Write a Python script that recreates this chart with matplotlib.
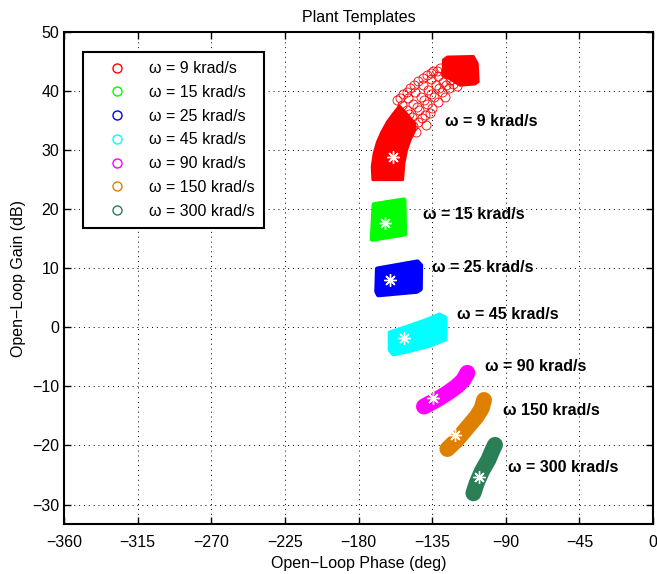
import matplotlib
matplotlib.use('Agg')
import matplotlib.pyplot as plt
from matplotlib.lines import Line2D

plt.rcParams['font.family'] = ['Liberation Sans', 'DejaVu Sans']
plt.rcParams['font.size'] = 11.5

freqs = [9, 15, 25, 45, 90, 150, 300]
colors = ['#ff0000', '#00ff00', '#0000ff', '#00ffff', '#ff00ff', '#df8000', '#2b7f57']

# 9 krad/s: dense lower arc, loose circles in the middle, dense blob on top
t9_low_phase = [-171.3, -171.7, -170.5, -168.5, -165.8, -162.4, -158.7, -155.0,
                -150.6, -145.5, -145.5, -148.5, -150.6, -152.2, -153.0]
t9_low_gain = [25.0, 27.2, 29.5, 31.4, 33.1, 34.8, 36.2, 37.5,
               36.2, 34.5, 33.4, 31.7, 30.0, 27.8, 25.0]
t9_top_phase = [-128.2, -125.7, -109.8, -107.4, -106.8, -108.8, -118.0, -123.1, -128.2]
t9_top_gain = [45.3, 45.8, 45.9, 44.7, 41.6, 41.2, 41.0, 41.9, 42.7]
t9_circ_phase = [-156.3, -152.6, -148.5, -143.4, -138.3, -134.7, -130.2,
                 -154.6, -150.6, -146.1, -140.8, -135.9, -132.2,
                 -153.6, -149.5, -145.5, -140.8, -135.9, -131.2, -127.1,
                 -150.6, -146.5, -142.0, -137.3, -132.6, -128.1, -124.1,
                 -148.9, -144.4, -140.0, -135.5, -130.6, -126.5, -122.0,
                 -147.5, -142.8, -138.3, -133.9, -129.2, -124.5, -120.0,
                 -143.4, -139.4, -135.3, -131.2, -127.1,
                 -146.5, -144.9, -141.4, -139.0, -136.5]
t9_circ_gain = [38.5, 39.5, 40.6, 41.8, 42.7, 43.5, 44.0,
                38.8, 39.9, 41.0, 42.2, 43.0, 43.5,
                37.6, 38.8, 39.9, 41.0, 42.0, 42.6, 43.0,
                36.8, 37.9, 39.1, 40.2, 41.0, 41.6, 41.9,
                36.2, 37.4, 38.5, 39.6, 40.5, 41.1, 41.3,
                35.7, 36.8, 37.9, 39.1, 39.9, 40.6, 40.9,
                34.8, 36.0, 37.1, 38.2, 39.1,
                34.1, 33.1, 35.4, 34.2, 36.3]

# 15, 25 and 45 krad/s outlines
t15_phase = [-170.5, -152.2, -151.8, -171.7]
t15_gain = [20.8, 21.6, 15.8, 14.9]
t25_phase = [-168.5, -144.0, -142.0, -142.2, -144.4, -167.9, -168.9]
t25_gain = [9.9, 11.1, 10.5, 6.5, 6.1, 5.5, 6.1]
t45_phase = [-160.7, -150.6, -138.3, -130.6, -127.1, -127.1, -136.3, -148.5, -158.7, -160.7]
t45_gain = [-0.9, 0.0, 1.2, 2.1, 1.6, -2.0, -3.0, -3.9, -4.5, -3.8]

# 90, 150 and 300 krad/s are thin curved bands (centre lines)
t90_phase = [-140.0, -133.2, -126.1, -120.0, -115.9, -113.5]
t90_gain = [-13.4, -12.4, -11.2, -10.0, -8.9, -7.7]
t150_phase = [-125.7, -120.0, -113.9, -107.8, -104.7, -103.3]
t150_gain = [-20.6, -19.1, -17.1, -15.1, -13.7, -12.3]
t300_phase = [-109.8, -107.8, -104.7, -100.6, -98.0, -96.6]
t300_gain = [-28.1, -26.4, -24.4, -22.4, -20.7, -19.9]

nominal_phase = [-158.7, -163.8, -160.7, -152.2, -134.7, -121.0, -106.1]
nominal_gain = [28.9, 17.6, 8.0, -1.8, -12.0, -18.2, -25.3]

label_phase = [-127.1, -140.8, -135.2, -119.6, -102.7, -91.9, -88.4]
label_gain = [34.8, 19.2, 10.1, 2.1, -6.6, -14.0, -23.8]
label_text = ['ω = 9 krad/s', 'ω = 15 krad/s', 'ω = 25 krad/s', 'ω = 45 krad/s',
              'ω = 90 krad/s', 'ω 150 krad/s', 'ω = 300 krad/s']

fig, ax = plt.subplots(figsize=(6.57, 5.74), dpi=100)
fig.subplots_adjust(left=0.0974, right=0.994, bottom=0.0871, top=0.944)

ax.fill(t9_low_phase, t9_low_gain, color=colors[0], lw=2, joinstyle='round')
ax.fill(t9_top_phase, t9_top_gain, color=colors[0], lw=2, joinstyle='round')
ax.plot(t9_circ_phase, t9_circ_gain, ls='none', marker='o', mfc='none',
        mec=colors[0], ms=6.5, mew=0.6)

ax.fill(t15_phase, t15_gain, color=colors[1], lw=3.5, joinstyle='round')
ax.fill(t25_phase, t25_gain, color=colors[2], lw=3.5, joinstyle='round')
ax.fill(t45_phase, t45_gain, color=colors[3], lw=3.5, joinstyle='round')

for ph, g, c in [(t90_phase, t90_gain, colors[4]),
                 (t150_phase, t150_gain, colors[5]),
                 (t300_phase, t300_gain, colors[6])]:
    ax.plot(ph, g, color=c, lw=11.5, solid_capstyle='round', solid_joinstyle='round')

ax.plot(nominal_phase, nominal_gain, ls='none', marker=(8, 2, 0), color='w',
        ms=9, mew=1, zorder=5)

for x, y, s in zip(label_phase, label_gain, label_text):
    ax.text(x, y, s, fontweight='bold', ha='left', va='center', fontsize=11.5)

ax.set_xlim(-360, 0)
ax.set_ylim(-33.3, 50)
ax.set_xticks(range(-360, 1, 45))
ax.set_yticks(range(-30, 51, 10))
ax.set_axisbelow(True)
ax.grid(True, color='k', linestyle=(0, (1, 4)), linewidth=0.7)
ax.tick_params(direction='in', top=True, right=True, length=5, width=1)
ax.tick_params(axis='x', pad=8)
for sp in ax.spines.values():
    sp.set_linewidth(1.5)

ax.set_title('Plant Templates', fontsize=11.5, pad=7)
ax.set_xlabel('Open\u2212Loop Phase (deg)', labelpad=4)
ax.set_ylabel('Open\u2212Loop Gain (dB)', labelpad=4)

handles = [Line2D([], [], ls='none', marker='o', mfc='none', mec=c, ms=6.5, mew=1)
           for c in colors]
labels = ['ω = %d krad/s' % f for f in freqs]
leg = ax.legend(handles, labels, loc='upper left', bbox_to_anchor=(0.032, 0.959),
                borderaxespad=0, fancybox=False, edgecolor='k', framealpha=1,
                handlelength=3.2, handletextpad=0.4, labelspacing=0.55,
                borderpad=0.55, fontsize=11.5)
leg.get_frame().set_linewidth(1.5)

plt.savefig('out.png', dpi=100)
